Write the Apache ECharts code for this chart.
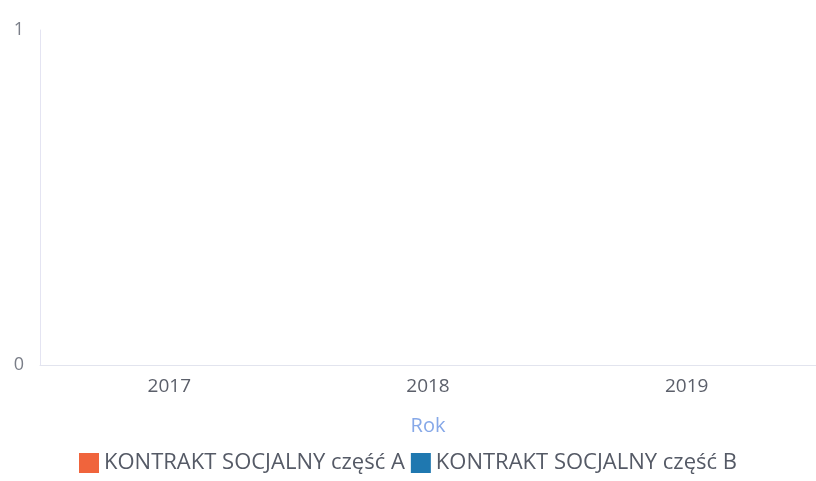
<!DOCTYPE html>
<html><head><meta charset="utf-8">
<script src="https://cdn.jsdelivr.net/npm/echarts@6/dist/echarts.min.js"></script>
<style>html,body{margin:0;padding:0;background:#fff}#c{width:816px;height:481px}</style>
</head><body><div id="c"></div>
<script>
const categories = ['2017', '2018', '2019'];
const seriesA = [0, 0, 0];
const seriesB = [0, 0, 0];
const seriesNames = ['KONTRAKT SOCJALNY część A', 'KONTRAKT SOCJALNY część B'];
const yTicks = [0, 1];

const chart = echarts.init(document.getElementById('c'));
chart.setOption({
  animation: false,
  textStyle: { fontFamily: 'Open Sans' },
  grid: { left: 40, right: 0, top: 30, bottom: 116 },
  legend: {
    bottom: 2, left: 'center', itemWidth: 20, itemHeight: 20, itemGap: 6,
    icon: 'rect',
    textStyle: { fontSize: 22, color: '#555a66', fontFamily: 'Open Sans' },
    data: seriesNames
  },
  xAxis: {
    type: 'category', data: categories,
    name: 'Rok', nameLocation: 'middle', nameGap: 51,
    nameTextStyle: { color: '#86a8e8', fontSize: 20 },
    axisLine: { lineStyle: { color: '#e2e4ee' } },
    axisTick: { show: false },
    axisLabel: { color: '#5b5f6a', fontSize: 19, margin: 12 }
  },
  yAxis: {
    type: 'value', min: yTicks[0], max: yTicks[yTicks.length - 1], interval: 1,
    axisLine: { show: true, lineStyle: { color: '#e4e4f2' } },
    splitLine: { show: false },
    axisLabel: { color: '#7a7e88', fontSize: 18, margin: 16 }
  },
  series: [
    { name: seriesNames[0], type: 'bar', data: seriesA, itemStyle: { color: '#f0643c' } },
    { name: seriesNames[1], type: 'bar', data: seriesB, itemStyle: { color: '#1f78b0' } }
  ]
});
</script></body></html>
